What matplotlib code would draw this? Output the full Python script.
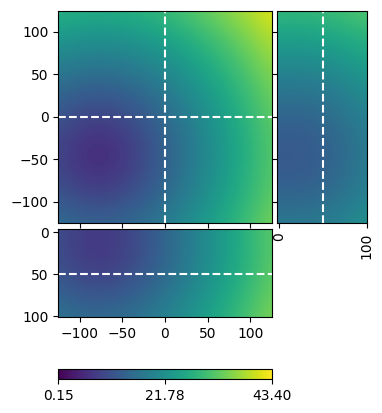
import matplotlib
matplotlib.use('Agg')
import matplotlib.pyplot as plt
import numpy as np

# slice positions
x_cut, y_cut, z_cut = 0, 0, 50

# sample grid (step 25)
xs = [-125, -100, -75, -50, -25, 0, 25, 50, 75, 100, 125]
ys = [-125, -100, -75, -50, -25, 0, 25, 50, 75, 100, 125]
zs = [0, 25, 50, 75, 100]

# main slice z=50, rows = ys (bottom to top), cols = xs
main_vals = [
    [15.4, 14.0, 13.5, 14.2, 15.8, 18.1, 20.9, 24.0, 27.3, 30.7, 34.3],
    [12.5, 10.7, 10.1, 11.0, 13.0, 15.8, 18.9, 22.3, 25.8, 29.4, 33.0],
    [10.2, 7.9, 7.2, 8.4, 10.9, 14.0, 17.5, 21.1, 24.8, 28.5, 32.3],
    [9.1, 6.5, 5.5, 7.0, 9.9, 13.3, 16.9, 20.6, 24.3, 28.1, 31.9],
    [9.6, 7.1, 6.3, 7.6, 10.3, 13.6, 17.1, 20.8, 24.5, 28.3, 32.1],
    [11.5, 9.5, 8.8, 9.8, 12.1, 15.0, 18.2, 21.7, 25.3, 29.0, 32.7],
    [14.2, 12.6, 12.1, 12.9, 14.6, 17.1, 20.1, 23.3, 26.6, 30.1, 33.7],
    [17.3, 16.1, 15.7, 16.3, 17.7, 19.8, 22.4, 25.3, 28.4, 31.7, 35.2],
    [20.7, 19.7, 19.4, 19.9, 21.0, 22.8, 25.1, 27.7, 30.6, 33.7, 37.0],
    [24.2, 23.4, 23.1, 23.5, 24.5, 26.1, 28.1, 30.5, 33.1, 36.0, 39.0],
    [27.9, 27.1, 26.9, 27.3, 28.1, 29.5, 31.3, 33.4, 35.9, 38.5, 41.4],
]

# side slice x=0, rows = ys, cols = zs
side_vals = [
    [17.5, 17.4, 18.1, 19.7, 21.8],
    [15.0, 14.9, 15.8, 17.5, 19.8],
    [13.2, 13.0, 14.0, 15.9, 18.5],
    [12.3, 12.2, 13.3, 15.3, 17.9],
    [12.7, 12.6, 13.6, 15.6, 18.1],
    [14.2, 14.0, 15.0, 16.8, 19.2],
    [16.4, 16.3, 17.1, 18.7, 20.9],
    [19.2, 19.1, 19.8, 21.2, 23.2],
    [22.3, 22.2, 22.8, 24.1, 25.8],
    [25.6, 25.6, 26.1, 27.2, 28.7],
    [29.1, 29.0, 29.5, 30.4, 31.8],
]

# bottom slice y=0, rows = zs (top to bottom), cols = xs
bottom_vals = [
    [10.4, 8.1, 7.4, 8.5, 11.0, 14.2, 17.6, 21.2, 24.8, 28.6, 32.3],
    [10.2, 7.9, 7.2, 8.4, 10.9, 14.0, 17.5, 21.1, 24.8, 28.5, 32.3],
    [11.5, 9.5, 8.8, 9.8, 12.1, 15.0, 18.2, 21.7, 25.3, 29.0, 32.7],
    [13.7, 12.1, 11.6, 12.4, 14.2, 16.8, 19.8, 23.0, 26.4, 29.9, 33.5],
    [16.6, 15.3, 14.9, 15.5, 17.0, 19.2, 21.8, 24.8, 28.0, 31.4, 34.8],
]

vmin, vmax = 0.15, 43.40
cbar_ticks = [0.15, 21.78, 43.40]

fig = plt.figure(figsize=(3.82, 4.13), dpi=100)
ax = fig.add_axes([0.1527, 0.46, 0.5583, 0.514])
ax_r = fig.add_axes([0.724, 0.46, 0.238, 0.514], sharey=ax)
ax_b = fig.add_axes([0.1527, 0.2324, 0.5583, 0.2138], sharex=ax)
cax = fig.add_axes([0.1527, 0.0816, 0.5583, 0.0249])

kw = dict(cmap='viridis', vmin=vmin, vmax=vmax, interpolation='bicubic', aspect='auto')

im = ax.imshow(np.array(main_vals), origin='lower',
               extent=(xs[0] - 12.5, xs[-1] + 12.5, ys[0] - 12.5, ys[-1] + 12.5), **kw)
ax.axvline(x_cut, color='w', ls='--', lw=1.5)
ax.axhline(y_cut, color='w', ls='--', lw=1.5)
ax.set_xlim(-125, 125)
ax.set_ylim(-125, 125)
ax.set_yticks([-100, -50, 0, 50, 100])
ax.set_xticks([-100, -50, 0, 50, 100])
ax.tick_params(labelbottom=False)

ax_r.imshow(np.array(side_vals), origin='lower',
            extent=(zs[0] - 12.5, zs[-1] + 12.5, ys[0] - 12.5, ys[-1] + 12.5), **kw)
ax_r.axvline(z_cut, color='w', ls='--', lw=1.5)
ax_r.set_xlim(-3, 101)
ax_r.set_xticks([0, 100])
ax_r.tick_params(labelleft=False, axis='x', labelrotation=90)
ax_r.tick_params(axis='y', labelleft=False)

ax_b.imshow(np.array(bottom_vals), origin='upper',
            extent=(xs[0] - 12.5, xs[-1] + 12.5, zs[-1] + 12.5, zs[0] - 12.5), **kw)
ax_b.axhline(z_cut, color='w', ls='--', lw=1.5)
ax_b.set_ylim(101, -4)
ax_b.set_xlim(-125, 125)
ax_b.set_yticks([0, 50, 100])

cb = fig.colorbar(im, cax=cax, orientation='horizontal')
cb.set_ticks(cbar_ticks)
cb.set_ticklabels(['0.15', '21.78', '43.40'])

plt.savefig('out.png', dpi=100)
